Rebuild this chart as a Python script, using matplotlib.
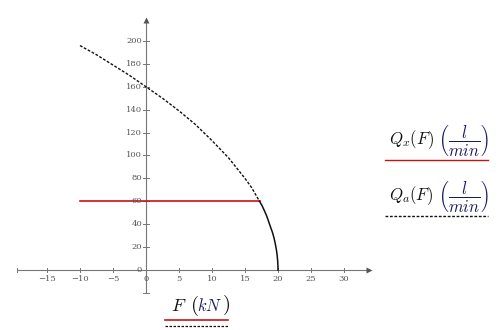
import matplotlib
matplotlib.use("Agg")
import matplotlib.pyplot as plt

plt.rcParams["mathtext.fontset"] = "cm"

# Data
F_a = [-10, -7.5, -5, -2.5, 0, 2.5, 5, 7.5, 10, 12.5, 15, 16, 17.2]
Q_a = [196, 188, 179, 170, 160, 150, 139, 127, 113, 98, 80, 72, 60]
F_low = [17.2, 17.6, 18, 18.3, 18.6, 18.9, 19.15, 19.4, 19.6, 19.75, 19.87, 19.95, 19.99, 20]
Q_low = [60, 56, 51, 47, 42, 37, 33, 28, 22.6, 17.9, 12.9, 8, 4, 0]
F_x = [-10, 17.2]
Q_x = [60, 60]
x_ticks = [-15, -10, -5, 0, 5, 10, 15, 20, 25, 30]
y_ticks = [0, 20, 40, 60, 80, 100, 120, 140, 160, 180, 200]

fig = plt.figure(figsize=(5, 3.3), dpi=100)
ax = fig.add_axes([0, 0, 1, 1])
ax.set_xlim(-146 / 6.6, (500 - 146) / 6.6)
ax.set_ylim((270 - 330) / 1.145, 270 / 1.145)
ax.axis("off")

axc = "#777777"
# axes lines
ax.plot([-19.5, 33.5], [0, 0], color=axc, lw=0.8)
ax.plot([33.8], [0], marker=">", color="#555555", ms=4, mec="none")
ax.plot([0, 0], [-20, 217], color=axc, lw=0.8)
ax.plot([0], [218], marker="^", color="#555555", ms=4, mec="none")
ax.plot([-19.5, -19.5], [-2, 2], color=axc, lw=0.7)
ax.plot([-0.5, 0.5], [-20, -20], color=axc, lw=0.7)

tfont = dict(family="DejaVu Serif", fontsize=6, color="#555555")
for t in x_ticks:
    ax.plot([t, t], [-2, 2], color=axc, lw=0.7)
    lab = str(t).replace("-", "\u2212")
    ax.text(t, -4, lab, ha="center", va="top", **tfont)
for t in y_ticks:
    ax.plot([-0.5, 0.5], [t, t], color=axc, lw=0.7)
    ax.text(-0.6, t, str(t), ha="right", va="center", **tfont)

# curves
ax.plot(F_x, Q_x, color="#cc1111", lw=1.2)
ax.plot(F_low, Q_low, color="#111111", lw=1.1)
ax.plot(F_a, Q_a, color="#111111", lw=1.0, ls=(0, (2, 1.2)))

# x label
fig.text(179 / 500, 1 - 306 / 330, r"$F$", fontsize=13, ha="center", va="center", color="#111111")
fig.text(194 / 500, 1 - 305 / 330, r"$($", fontsize=15, ha="center", va="center", color="#111111")
fig.text(210 / 500, 1 - 306 / 330, r"$kN$", fontsize=12, ha="center", va="center", color="#1a1a60")
fig.text(226 / 500, 1 - 305 / 330, r"$)$", fontsize=15, ha="center", va="center", color="#111111")
fig.add_artist(plt.Line2D([165 / 500, 228 / 500], [1 - 320 / 330] * 2, color="#cc1111", lw=1.2))
fig.add_artist(plt.Line2D([165 / 500, 228 / 500], [1 - 326 / 330] * 2, color="#111111", lw=0.9, ls=(0, (2, 1.2))))

# legend
for yc, sub, lsty, col in [(140, "x", "-", "#cc1111"), (196, "a", (0, (2, 1.2)), "#111111")]:
    fig.text(411 / 500, 1 - yc / 330, r"$Q_{%s}(F)$" % sub, fontsize=12, ha="center", va="center", color="#111111")
    fig.text(463 / 500, 1 - yc / 330, r"$\left(\dfrac{l}{min}\right)$", fontsize=12, ha="center", va="center", color="#1a1a60")
    fig.add_artist(plt.Line2D([385 / 500, 488 / 500], [1 - (yc + 20) / 330] * 2, color=col, lw=1.0, ls=lsty))

fig.savefig("out.png", dpi=100)
